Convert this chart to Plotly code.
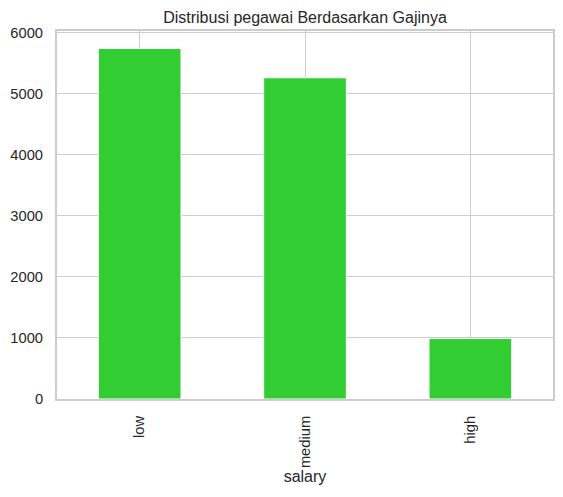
import plotly.graph_objects as go

categories = ["low", "medium", "high"]
counts = [5740, 5261, 990]
y_ticks = [0, 1000, 2000, 3000, 4000, 5000, 6000]

FONT = "Liberation Sans, Arial, sans-serif"
TXT = "#262626"
GRID = "#cccccc"

# page body has an 8px default margin; figure size/margins compensate for it
fig = go.Figure(
    go.Bar(
        x=categories,
        y=counts,
        width=0.5,
        marker=dict(color="#32CD32", line=dict(color="white", width=1)),
    )
)

fig.update_layout(
    width=555,
    height=489,
    margin=dict(l=49, r=10, t=23, b=98),
    paper_bgcolor="white",
    plot_bgcolor="white",
    showlegend=False,
    font=dict(family=FONT, color=TXT, size=14.7),
    title=dict(
        text="Distribusi pegawai Berdasarkan Gajinya",
        x=0.5,
        xref="paper",
        xanchor="center",
        y=1,
        yref="paper",
        yanchor="bottom",
        pad=dict(b=8),
        font=dict(family=FONT, size=16, color=TXT),
    ),
)

fig.update_xaxes(
    range=[-0.5, 2.5],
    tickangle=-90,
    showgrid=True,
    gridcolor=GRID,
    gridwidth=1,
    showline=True,
    linecolor=GRID,
    linewidth=2,
    mirror=True,
    ticks="",
    ticklabelstandoff=9,
    tickfont=dict(family=FONT, size=14.7, color=TXT),
    title=dict(text="salary", standoff=4, font=dict(family=FONT, size=16, color=TXT)),
    automargin=False,
)

fig.update_yaxes(
    range=[0, 6027],
    tickvals=y_ticks,
    ticktext=[str(v) for v in y_ticks],
    showgrid=True,
    gridcolor=GRID,
    gridwidth=1,
    zeroline=False,
    showline=True,
    linecolor=GRID,
    linewidth=2,
    mirror=True,
    ticks="",
    ticklabelstandoff=9,
    tickfont=dict(family=FONT, size=14.7, color=TXT),
    automargin=False,
)

fig.write_html("out.html")
